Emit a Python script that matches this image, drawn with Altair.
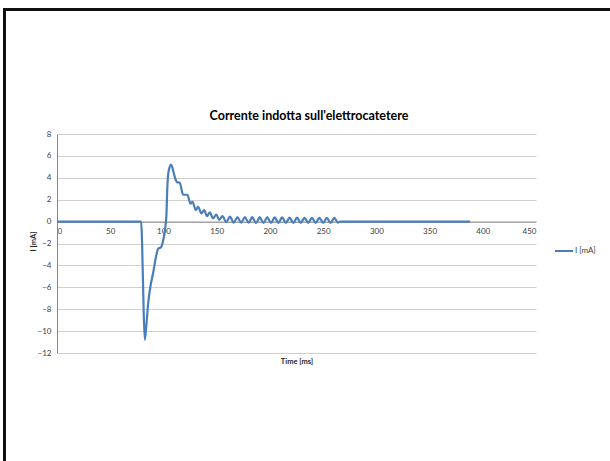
import altair as alt
import pandas as pd

# Data
time_ms = [0, 79, 80.8, 81.5, 82.5, 84, 85.5, 87.8, 90.3, 92.8, 95, 98, 99.6, 101.2,
           102.8, 103.6, 104.4, 105.9, 107, 108.2, 110, 112.8, 115.3, 118.5, 122.5,
           125.4, 127.3, 130.4, 132.5, 135.7, 138.2, 141, 143.5, 146.6, 149.8, 152.3,
           155.4, 159, 162.5, 166, 169.5, 173, 176.5, 180, 183.5, 187, 190.5, 194,
           197.5, 201, 204.5, 208, 211.5, 215, 218.5, 222, 225.5, 229, 232.5, 236,
           239.5, 243, 246.5, 250, 253.5, 257, 260.5, 264, 266, 388]
current_ma = [0, 0, -5.5, -8.5, -10.8, -9.4, -7.6, -5.9, -4.7, -3.3, -2.5, -2.3, -1.8, -0.9,
              0.6, 3.0, 4.3, 5.0, 5.2, 5.0, 4.3, 3.6, 3.55, 2.45, 2.45,
              1.65, 1.8, 1.05, 1.35, 0.75, 1.05, 0.5, 0.85, 0.3, 0.65, 0.15,
              0.5, -0.05, 0.45, -0.1, 0.42, -0.1, 0.42, -0.1, 0.4, -0.12, 0.4, -0.12,
              0.4, -0.12, 0.38, -0.12, 0.38, -0.12, 0.36, -0.12, 0.36, -0.12, 0.35, -0.12,
              0.35, -0.12, 0.35, -0.12, 0.34, -0.12, 0.34, -0.1, 0.0, 0.0]
series_name = "I [mA]"
chart_title = "Corrente indotta sull'elettrocatetere"
x_ticks = [0, 50, 100, 150, 200, 250, 300, 350, 400, 450]
y_ticks = [-12, -10, -8, -6, -4, -2, 0, 2, 4, 6, 8]

df = pd.DataFrame({"t": time_ms, "i": current_ma, "s": series_name})

FONT = "Lato"
FS = 8
W, H = 479, 219
PL, PT = 57, 134

line = alt.Chart(df).mark_line(strokeWidth=2.2, interpolate="monotone", clip=False).encode(
    x=alt.X("t:Q", scale=alt.Scale(domain=[0, 450], nice=False),
            axis=alt.Axis(values=x_ticks, title="Time [ms]", grid=False, ticks=False,
                          offset=-131.4, domainColor="#868686", domainWidth=1,
                          labelFont=FONT, labelFontSize=FS, labelColor="#404040",
                          labelPadding=6, titleFont=FONT, titleFontSize=7.5,
                          titleFontWeight="bold", titleColor="#262626", titleY=136)),
    y=alt.Y("i:Q", scale=alt.Scale(domain=[-12, 8], nice=False),
            axis=alt.Axis(values=y_ticks, title="I [mA]", grid=True, gridColor="#D0D0D0",
                          gridWidth=1, ticks=False, domainColor="#868686", domainWidth=1,
                          labelFont=FONT, labelFontSize=FS, labelColor="#404040",
                          labelPadding=6, titleFont=FONT, titleFontSize=7.5,
                          titleFontWeight="bold", titleColor="#262626",
                          titleX=-20, titleY=107)),
    color=alt.Color("s:N", scale=alt.Scale(range=["#4A7EBB"]),
                    legend=alt.Legend(title=None, orient="none", legendX=497, legendY=107,
                                      symbolType="stroke", symbolSize=324, symbolStrokeWidth=2,
                                      labelFont=FONT, labelFontSize=FS, labelColor="#404040",
                                      labelOffset=1)),
)

one = pd.DataFrame({"k": [0]})
top_border = alt.Chart(one).mark_rule(color="#111111", strokeWidth=3).encode(
    x=alt.value(3 - PL), x2=alt.value(610 - PL), y=alt.value(9.5 - PT))
left_border = alt.Chart(one).mark_rule(color="#111111", strokeWidth=3).encode(
    x=alt.value(4.5 - PL), y=alt.value(8 - PT), y2=alt.value(461 - PT))
title_text = alt.Chart(one).mark_text(
    text=chart_title, font=FONT, fontSize=12.5, fontWeight="bold", color="#000000",
    align="center", baseline="alphabetic").encode(
    x=alt.value(309 - PL), y=alt.value(119.5 - PT))

chart = alt.layer(line, top_border, left_border, title_text).properties(
    width=W, height=H,
    autosize=alt.AutoSizeParams(type="none"),
    padding={"left": PL, "top": PT, "right": 610 - PL - W, "bottom": 461 - PT - H},
    background="white",
).configure_view(stroke=None)

chart.save("out.html", embed_options={"renderer": "svg", "actions": False})
